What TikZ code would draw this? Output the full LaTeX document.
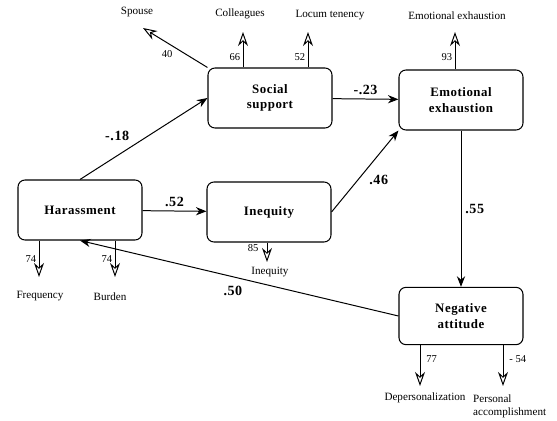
\documentclass[tikz,border=0pt]{standalone}
\usepackage{fontspec}
\setmainfont{Liberation Serif}
\usetikzlibrary{arrows.meta,positioning}

\begin{document}
\begin{tikzpicture}[x=0.03cm, y=-0.03cm,
  factor/.style={draw, rounded corners=6pt, minimum width=3.72cm, minimum height=1.8cm, align=center, line width=0.9pt, font=\fontsize{11}{13}\selectfont\bfseries\addfontfeatures{LetterSpace=4}},
  effect/.style={-{Stealth[length=9pt,width=7pt]}, line width=0.85pt},
  ind/.style={-{Stealth[open,length=12pt,width=8.5pt]}, line width=0.85pt},
  coef/.style={font=\fontsize{12}{14}\selectfont\bfseries\addfontfeatures{LetterSpace=4}},
  load/.style={font=\fontsize{9}{10}\selectfont, inner sep=2pt},
  item/.style={font=\fontsize{9.5}{11}\selectfont, inner sep=0pt}
]
\useasboundingbox (0,0) rectangle (557,421);

% latent factors
\node[factor] (soc) at (270,98) {Social\\support};
\node[factor] (emo) at (461,100) {Emotional\\exhaustion};
\node[factor] (har) at (80,210) {Harassment};
\node[factor] (ineq) at (269,212) {Inequity};
\node[factor, minimum height=1.72cm] (neg) at (461,316) {Negative\\attitude};

% structural paths
\draw[effect] (har.north) -- (soc.west) node[coef, pos=0.42, above left] {-.18};
\draw[effect] (soc) -- (emo) node[coef, midway, above] {-.23};
\draw[effect] (har) -- (ineq) node[coef, midway, above] {.52};
\draw[effect] (ineq.east) -- (emo.south west) node[coef, midway, below right] {.46};
\draw[effect] (emo) -- (neg) node[coef, midway, right] {.55};
\draw[effect] (neg.west) -- (har.south) node[coef, pos=0.52, below=4pt] {.50};

% indicators
\coordinate (spouseT) at (143,28);
\coordinate (collT) at (243,32);
\coordinate (locumT) at (308,32);
\coordinate (eeT) at (455,32);
\coordinate (freqT) at (39,277);
\coordinate (burdT) at (115,277);
\coordinate (ineqT) at (267,262);
\coordinate (depT) at (420,386);
\coordinate (persT) at (503,386);

\node[item] (spouse) at (137,12) {Spouse};
\node[item] (coll) at (240,14) {Colleagues};
\node[item] (locum) at (330,15) {Locum tenency};
\node[item] (eeitem) at (457,16) {Emotional exhaustion};
\node[item] (freq) at (40,296) {Frequency};
\node[item] (burd) at (110,297) {Burden};
\node[item] (ineqitem) at (270,272) {Inequity};
\node[item] (dep) at (425,398) {Depersonalization};
\node[item, align=left, anchor=north west] (pers) at (473,395) {Personal\\accomplishment};

\draw[ind] (soc.north west) -- (spouseT) node[load, pos=0.5, below left] {40};
\draw[ind] (collT |- soc.north) -- (collT) node[load, pos=0.3, left] {66};
\draw[ind] (locumT |- soc.north) -- (locumT) node[load, pos=0.3, left] {52};
\draw[ind] (eeT |- emo.north) -- (eeT) node[load, pos=0.32, left] {93};
\draw[ind] (freqT |- har.south) -- (freqT) node[load, pos=0.5, left] {74};
\draw[ind] (burdT |- har.south) -- (burdT) node[load, pos=0.5, left] {74};
\draw[ind] (ineqT |- ineq.south) -- (ineqT) node[load, pos=0.3, left=5pt] {85};
\draw[ind] (depT |- neg.south) -- (depT) node[load, pos=0.33, right=3pt] {77};
\draw[ind] (persT |- neg.south) -- (persT) node[load, pos=0.33, right=3pt] {- 54};
\end{tikzpicture}
\end{document}
